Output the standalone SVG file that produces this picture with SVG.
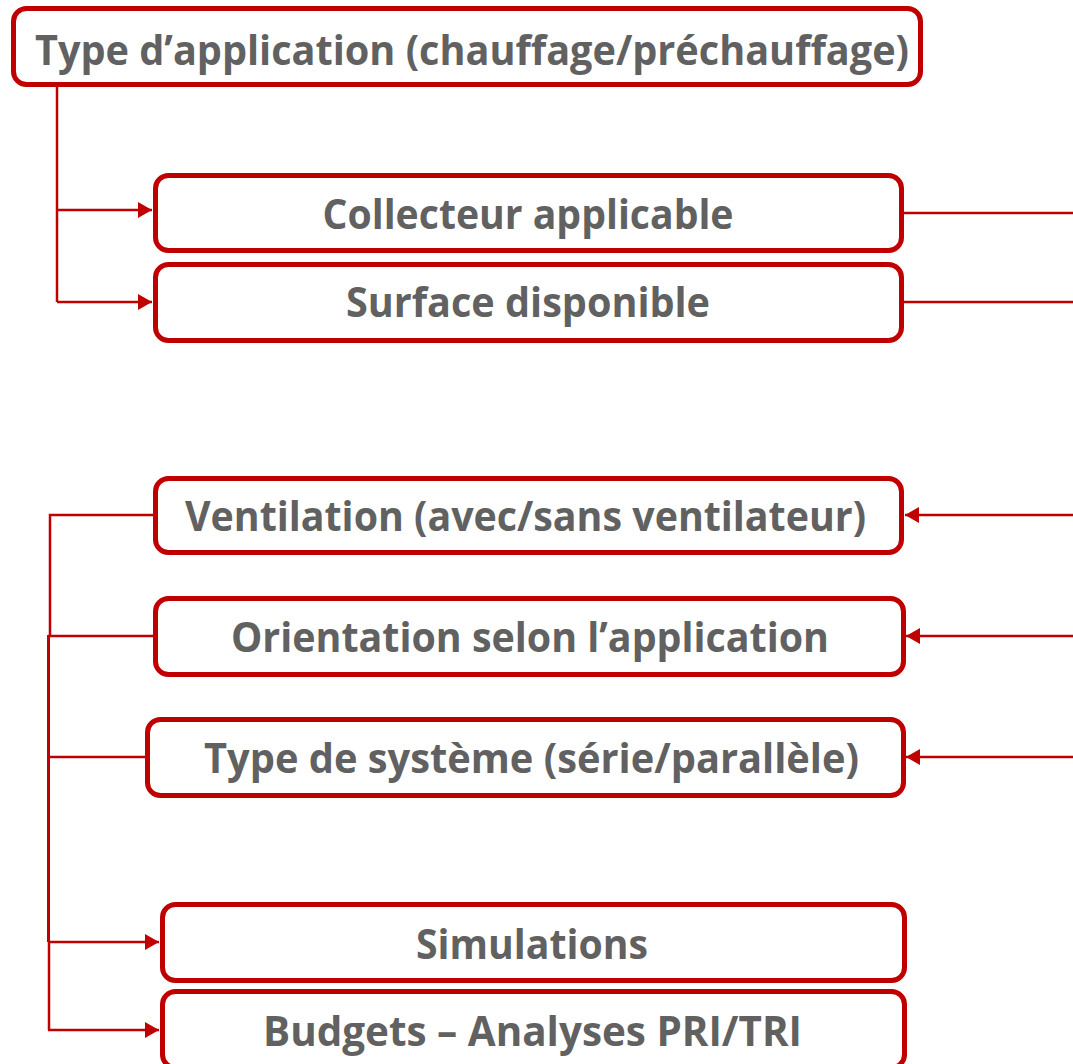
<svg xmlns="http://www.w3.org/2000/svg" width="1073" height="1064" viewBox="0 0 1073 1064">
<style>
.box{fill:#fff;stroke:#C00000;stroke-width:5}
.lbl{font-family:"Open Sans","Liberation Sans",sans-serif;font-weight:700;font-size:41px;fill:#616161;text-anchor:middle}
.ln{fill:none;stroke:#C00000;stroke-width:2.5}
</style>
<defs>
<marker id="ah" markerUnits="userSpaceOnUse" markerWidth="15" markerHeight="16" refX="14" refY="8" orient="auto" viewBox="0 0 15 16">
<path d="M0,0 L14,8 L0,16 z" fill="#C00000"/>
</marker>
</defs>
<rect width="1073" height="1064" fill="#fff"/>
<g id="connectors">
<path class="ln" d="M57,87 V302"/>
<path class="ln" d="M57,210 H152" marker-end="url(#ah)"/>
<path class="ln" d="M57,302 H152" marker-end="url(#ah)"/>
<path class="ln" d="M904,213 H1073"/>
<path class="ln" d="M904,302 H1073"/>
<path class="ln" d="M1073,515 H905" marker-end="url(#ah)"/>
<path class="ln" d="M1073,636 H906" marker-end="url(#ah)"/>
<path class="ln" d="M1073,757 H906" marker-end="url(#ah)"/>
<path class="ln" d="M153,515 H50 V636"/>
<path class="ln" d="M48,636 H153"/>
<path class="ln" d="M48,757 H145"/>
<path class="ln" style="stroke-width:3" d="M48.5,635 V942"/>
<path class="ln" d="M49,942 V1030"/>
<path class="ln" d="M48,942 H159" marker-end="url(#ah)"/>
<path class="ln" d="M48,1030 H159" marker-end="url(#ah)"/>
</g>
<g id="node-type-application">
<rect class="box" x="13.5" y="8.5" width="907" height="76" rx="13"/>
<text class="lbl" x="472" y="65" textLength="874" lengthAdjust="spacingAndGlyphs">Type d’application (chauffage/préchauffage)</text>
</g>
<g id="node-collecteur">
<rect class="box" x="155.5" y="175.5" width="746" height="75" rx="13"/>
<text class="lbl" x="528" y="229" textLength="411" lengthAdjust="spacingAndGlyphs">Collecteur applicable</text>
</g>
<g id="node-surface">
<rect class="box" x="155.5" y="264.5" width="746" height="76" rx="13"/>
<text class="lbl" x="528" y="317" textLength="364" lengthAdjust="spacingAndGlyphs">Surface disponible</text>
</g>
<g id="node-ventilation">
<rect class="box" x="155.5" y="478.5" width="746" height="74" rx="13"/>
<text class="lbl" x="525.5" y="531" textLength="681" lengthAdjust="spacingAndGlyphs">Ventilation (avec/sans ventilateur)</text>
</g>
<g id="node-orientation">
<rect class="box" x="155.5" y="598.5" width="748" height="76" rx="13"/>
<text class="lbl" x="530" y="652" textLength="598" lengthAdjust="spacingAndGlyphs">Orientation selon l’application</text>
</g>
<g id="node-type-systeme">
<rect class="box" x="147.5" y="719.5" width="756" height="76" rx="13"/>
<text class="lbl" x="531.5" y="773" textLength="655" lengthAdjust="spacingAndGlyphs">Type de système (série/parallèle)</text>
</g>
<g id="node-simulations">
<rect class="box" x="162.5" y="904.5" width="742" height="76" rx="13"/>
<text class="lbl" x="532" y="959" textLength="232" lengthAdjust="spacingAndGlyphs">Simulations</text>
</g>
<g id="node-budgets">
<rect class="box" x="162.5" y="991.5" width="742" height="76" rx="13"/>
<text class="lbl" x="532.5" y="1046" textLength="539" lengthAdjust="spacingAndGlyphs">Budgets – Analyses PRI/TRI</text>
</g>
</svg>
